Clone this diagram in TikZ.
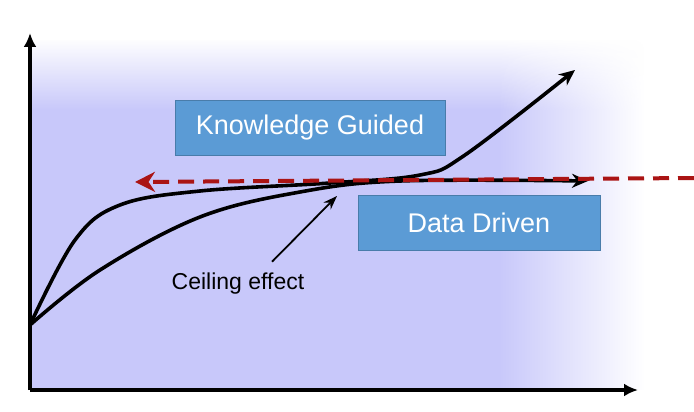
\documentclass[tikz,border=0pt]{standalone}
\usepackage{fontspec}
\setmainfont{Liberation Sans}
\usetikzlibrary{arrows.meta,fadings}
\definecolor{lavender}{RGB}{200,200,250}
\definecolor{boxblue}{RGB}{91,155,213}
\definecolor{darkred}{RGB}{170,20,20}
\begin{document}
\begin{tikzpicture}[x=1pt,y=-1pt,
        box/.style={fill=boxblue,draw=boxblue!80!black,line width=0.6pt,text=white,font=\fontsize{27}{30}\selectfont,inner sep=0pt},
        curve/.style={line width=3.6pt,black},
        axis/.style={line width=4pt,-{Latex[length=14pt,width=13pt]}}]
        \useasboundingbox (0,0) rectangle (694,412);
        
        % background
        \fill [lavender] (30,40) rectangle (500,390);
        \fill [lavender,path fading=east] (499,40) rectangle (645,390);
        \fill [white,path fading=south] (30,38) rectangle (645,110);
        
        % axes
        \coordinate (O) at (30,390);
        \coordinate (ytop) at (30,33);
        \coordinate (xend) at (638,390);
        \draw [axis] (O) -- (ytop);
        \draw [axis] (O) -- (xend);
        
        % curves
        \coordinate (start) at (30,325);
        \draw [curve,-{Stealth[length=16pt,width=14pt]}] plot [smooth,tension=0.6] coordinates
            {(start) (75,240) (120,205) (200,191) (330,183) (420,175) (465,155) (575,70)};
        \draw [curve,-{Stealth[length=16pt,width=14pt]}] plot [smooth,tension=0.6] coordinates
            {(start) (100,270) (200,217) (300,192) (400,181) (588,181)};
        
        % boxes
        \node [box,minimum width=270pt,minimum height=55pt] (kg) at (310,127.5) {Knowledge Guided};
        \node [box,minimum width=242pt,minimum height=55pt] (dd) at (479,222.5) {Data Driven};
        
        % dashed line
        \coordinate (right) at (694,178);
        \coordinate (left) at (135,182);
        \draw [darkred,line width=4pt,dash pattern=on 16pt off 9pt,-{Stealth[length=20pt,width=20pt]}] (right) -- (left);
        
        % ceiling
        \node [font=\fontsize{23}{26}\selectfont] (ceil) at (238,284) {Ceiling effect};
        \coordinate (ceiltip) at (337,196);
        \draw [line width=1.8pt,-{Stealth[length=14pt,width=10pt]}] (ceil.north) ++(34,-8) -- (ceiltip);
        
\end{tikzpicture}
\end{document}
